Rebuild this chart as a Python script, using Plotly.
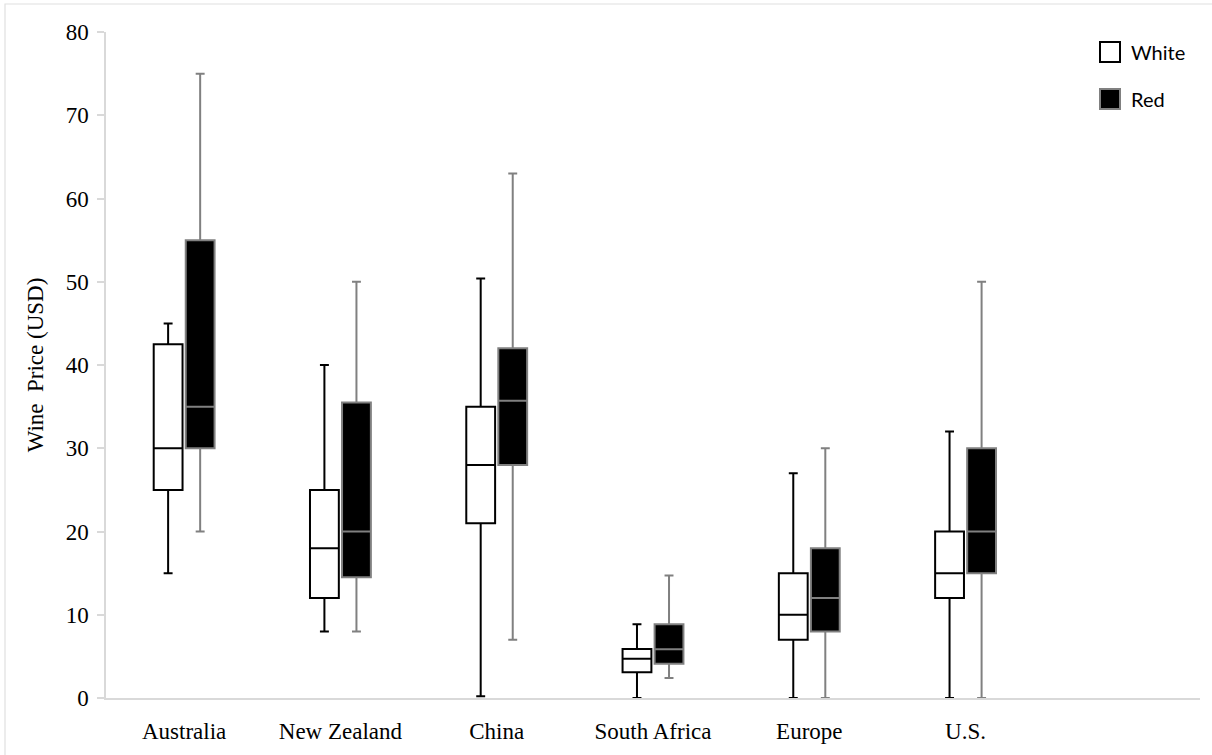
import plotly.graph_objects as go

categories = ["Australia", "New Zealand", "China", "South Africa", "Europe", "U.S."]

white_lower = [15, 8, 0.2, 0, 0, 0]
white_q1 = [25, 12, 21, 3.1, 7, 12]
white_median = [30, 18, 28, 4.7, 10, 15]
white_q3 = [42.5, 25, 35, 5.9, 15, 20]
white_upper = [45, 40, 50.4, 8.85, 27, 32]

red_lower = [20, 8, 7, 2.4, 0, 0]
red_q1 = [30, 14.5, 28, 4.1, 8, 15]
red_median = [35, 20, 35.7, 5.85, 12, 20]
red_q3 = [55, 35.5, 42, 8.85, 18, 30]
red_upper = [75, 50, 63, 14.7, 30, 50]

y_ticks = [0, 10, 20, 30, 40, 50, 60, 70, 80]

GRAY = "#808080"
AXIS = "#d9d9d9"
SERIF = "Liberation Serif"

fig = go.Figure()
fig.add_trace(go.Box(
    name="White", x=categories, q1=white_q1, median=white_median, q3=white_q3,
    lowerfence=white_lower, upperfence=white_upper,
    fillcolor="white", line=dict(color="black", width=2),
    whiskerwidth=0.31, boxpoints=False, showlegend=False,
))
fig.add_trace(go.Box(
    name="Red", x=categories, q1=red_q1, median=red_median, q3=red_q3,
    lowerfence=red_lower, upperfence=red_upper,
    fillcolor="black", line=dict(color=GRAY, width=2),
    whiskerwidth=0.31, boxpoints=False, showlegend=False,
))

L, R, T, B = 106, 12, 32, 57
W, H = 1212, 755
pw, ph = W - L - R, H - T - B

def px(x):
    return (x - L) / pw

def py(y):
    return (H - B - y) / ph

shapes = [
    dict(type="rect", xref="paper", yref="paper", x0=px(5), x1=px(1216), y0=py(760), y1=py(4),
         line=dict(color="#e0e0e0", width=1.2), fillcolor="rgba(0,0,0,0)", layer="below"),
    dict(type="rect", xref="paper", yref="paper", x0=px(1100), x1=px(1120), y0=py(62), y1=py(42),
         line=dict(color="black", width=2), fillcolor="white"),
    dict(type="rect", xref="paper", yref="paper", x0=px(1100), x1=px(1120), y0=py(109), y1=py(89),
         line=dict(color=GRAY, width=2), fillcolor="black"),
]
annotations = [
    dict(xref="paper", yref="paper", x=px(1129), y=py(52), text="White", showarrow=False,
         xanchor="left", yanchor="middle", font=dict(family="Lato", size=20, color="black")),
    dict(xref="paper", yref="paper", x=px(1129), y=py(99), text="Red", showarrow=False,
         xanchor="left", yanchor="middle", font=dict(family="Lato", size=20, color="black")),
]

fig.update_layout(
    width=W, height=H,
    margin=dict(l=L, r=R, t=T, b=B, autoexpand=False),
    paper_bgcolor="white", plot_bgcolor="white",
    boxmode="group", boxgap=0.59, boxgroupgap=0.1,
    shapes=shapes, annotations=annotations,
    showlegend=False,
    xaxis=dict(
        type="category", categoryorder="array", categoryarray=categories,
        range=[-0.5, 6.5], showline=True, linecolor=AXIS, linewidth=1.5,
        ticks="", showgrid=False, zeroline=False,
        tickfont=dict(family=SERIF, size=23, color="black"), ticklabelstandoff=12,
    ),
    yaxis=dict(
        range=[0, 80], tickvals=y_ticks, showline=True, linecolor=AXIS, linewidth=1.5,
        ticks="outside", ticklen=7, tickcolor=AXIS, tickwidth=1.5,
        showgrid=False, zeroline=False,
        tickfont=dict(family=SERIF, size=23, color="black"), ticklabelstandoff=4,
        title=dict(text="Wine  Price (USD)", font=dict(family=SERIF, size=23, color="black"), standoff=16),
    ),
)

fig.write_html("out.html", config={"displayModeBar": False},
               post_script="document.body.style.margin='0px';")
